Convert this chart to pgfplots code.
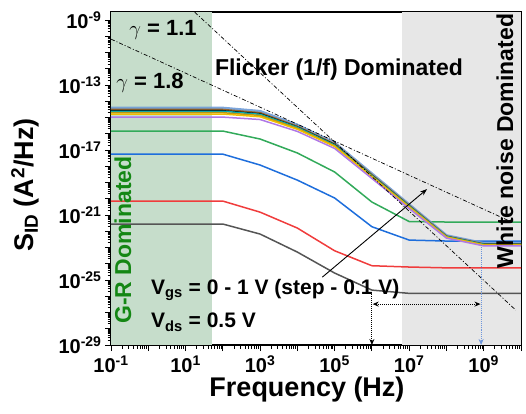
\documentclass[border=0pt]{standalone}
\usepackage{fontspec}
\setmainfont{Liberation Sans}
\usepackage{pgfplots}
\pgfplotsset{compat=1.18}
\usetikzlibrary{arrows.meta}
\definecolor{grfill}{RGB}{198,221,203}
\definecolor{wnfill}{RGB}{231,231,231}
\definecolor{c0}{RGB}{85,85,85}
\definecolor{c1}{RGB}{240,60,60}
\definecolor{c2}{RGB}{30,110,220}
\definecolor{c3}{RGB}{50,170,90}
\definecolor{c4}{RGB}{175,120,230}
\definecolor{c5}{RGB}{240,190,0}
\definecolor{c6}{RGB}{190,150,20}
\definecolor{c7}{RGB}{0,170,180}
\definecolor{c8}{RGB}{0,0,0}
\definecolor{c9}{RGB}{150,100,40}
\definecolor{c10}{RGB}{110,155,215}
\definecolor{grtext}{RGB}{20,135,20}
\definecolor{arrblue}{RGB}{110,150,220}
\newcommand{\tl}[1]{\textbf{10\textsuperscript{#1}}}
\begin{document}
\begin{tikzpicture}
\useasboundingbox (-111bp,-69bp) rectangle (415bp,345bp);
\begin{axis}[
  at={(0,0)}, anchor=south west,
  scale only axis, width=410bp, height=333bp,
  xmode=log, ymode=log,
  xmin=1e-1, xmax=1e10, ymin=1e-29, ymax=3.16e-9,
  axis line style={line width=1.2bp},
  tick align=outside, xtick pos=bottom, ytick pos=left,
  major tick length=6bp, minor tick length=3.5bp,
  every tick/.style={line width=0.9bp, black},
  xtick={1e-1,1,10,100,1e3,1e4,1e5,1e6,1e7,1e8,1e9,1e10},
  xticklabels={\tl{-1},,\tl{1},,\tl{3},,\tl{5},,\tl{7},,\tl{9},},
  ytick={1e-29,1e-28,1e-27,1e-26,1e-25,1e-24,1e-23,1e-22,1e-21,1e-20,1e-19,1e-18,1e-17,1e-16,1e-15,1e-14,1e-13,1e-12,1e-11,1e-10,1e-9},
  yticklabels={\tl{-29},,,,\tl{-25},,,,\tl{-21},,,,\tl{-17},,,,\tl{-13},,,,\tl{-9}},
  tick label style={font=\bfseries\fontsize{20bp}{22bp}\selectfont},
  xticklabel style={yshift=-1bp},
  clip=true,
]
% regions
\addplot[fill=grfill, draw=none, forget plot] coordinates {(0.1,1e-29) (50,1e-29) (50,3.16e-9) (0.1,3.16e-9)} -- cycle;
\addplot[fill=wnfill, draw=none, forget plot] coordinates {(6.5e6,1e-29) (1e10,1e-29) (1e10,3.16e-9) (6.5e6,3.16e-9)} -- cycle;
% Vgs = 0
\addplot[c0, line width=1.5bp] coordinates {(1e-1,2.8e-22) (1,2.8e-22) (10,2.8e-22) (100,2.8e-22) (1e3,6.76e-23) (1e4,5.25e-24) (1e5,2.69e-25) (1e6,2.4e-26) (1e7,1.51e-26) (1e8,1.51e-26) (1e9,1.51e-26) (1e10,1.51e-26)};
% Vgs = 0.1
\addplot[c1, line width=1.5bp] coordinates {(1e-1,7.24e-21) (1,7.24e-21) (10,7.24e-21) (100,7.24e-21) (1e3,1.51e-21) (1e4,1.58e-22) (1e5,6.31e-24) (1e6,7.59e-25) (1e7,6.31e-25) (1e8,5.62e-25) (1e9,5.62e-25) (1e10,5.62e-25)};
% Vgs = 0.2
\addplot[c2, line width=1.5bp] coordinates {(1e-1,5.62e-18) (1,5.62e-18) (10,5.62e-18) (100,5.62e-18) (1e3,1.2e-18) (1e4,1.41e-19) (1e5,1.12e-20) (1e6,1.91e-22) (1e7,2.88e-23) (1e8,2.51e-23) (1e9,2.51e-23) (1e10,2.51e-23)};
% Vgs = 0.3
\addplot[c3, line width=1.5bp] coordinates {(1e-1,1.48e-16) (1,1.48e-16) (10,1.48e-16) (100,1.48e-16) (1e3,4.79e-17) (1e4,6.61e-18) (1e5,4.47e-19) (1e6,6.31e-21) (1e7,3.98e-22) (1e8,3.72e-22) (1e9,3.72e-22) (1e10,3.72e-22)};
% Vgs = 1.0
\addplot[c10, line width=3bp, opacity=0.9] coordinates {(1e-1,3.8e-15) (1,3.8e-15) (10,3.8e-15) (100,3.8e-15) (1e3,2.4e-15) (1e4,3.39e-16) (1e5,2.69e-17) (1e6,3.39e-19) (1e7,4.27e-21) (1e8,5.37e-23) (1e9,1.78e-23) (1e10,1.78e-23)};
% Vgs = 0.9
\addplot[c9, line width=1.5bp] coordinates {(1e-1,3.16e-15) (1,3.16e-15) (10,3.16e-15) (100,3.16e-15) (1e3,2.0e-15) (1e4,2.95e-16) (1e5,2.4e-17) (1e6,3.09e-19) (1e7,3.98e-21) (1e8,5.13e-23) (1e9,1.7e-23) (1e10,1.7e-23)};
% Vgs = 0.8
\addplot[c8, line width=0.9bp] coordinates {(1e-1,2.75e-15) (1,2.75e-15) (10,2.75e-15) (100,2.75e-15) (1e3,1.78e-15) (1e4,2.69e-16) (1e5,2.24e-17) (1e6,2.88e-19) (1e7,3.72e-21) (1e8,4.9e-23) (1e9,1.62e-23) (1e10,1.62e-23)};
% Vgs = 0.7
\addplot[c7, line width=1.5bp] coordinates {(1e-1,2.45e-15) (1,2.45e-15) (10,2.45e-15) (100,2.45e-15) (1e3,1.58e-15) (1e4,2.51e-16) (1e5,2.04e-17) (1e6,2.69e-19) (1e7,3.55e-21) (1e8,4.79e-23) (1e9,1.58e-23) (1e10,1.58e-23)};
% Vgs = 0.6
\addplot[c6, line width=1.5bp] coordinates {(1e-1,2.0e-15) (1,2.0e-15) (10,2.0e-15) (100,2.0e-15) (1e3,1.35e-15) (1e4,2.19e-16) (1e5,1.82e-17) (1e6,2.45e-19) (1e7,3.24e-21) (1e8,4.47e-23) (1e9,1.48e-23) (1e10,1.48e-23)};
% Vgs = 0.5
\addplot[c5, line width=1.5bp] coordinates {(1e-1,1.66e-15) (1,1.66e-15) (10,1.66e-15) (100,1.66e-15) (1e3,1.12e-15) (1e4,1.91e-16) (1e5,1.66e-17) (1e6,2.24e-19) (1e7,3.02e-21) (1e8,4.27e-23) (1e9,1.41e-23) (1e10,1.41e-23)};
% Vgs = 0.4
\addplot[c4, line width=1.5bp] coordinates {(1e-1,1.07e-15) (1,1.07e-15) (10,1.07e-15) (100,1.07e-15) (1e3,7.59e-16) (1e4,1.41e-16) (1e5,1.26e-17) (1e6,1.78e-19) (1e7,2.51e-21) (1e8,3.8e-23) (1e9,1.26e-23) (1e10,1.26e-23)};
% slope guide lines
\addplot[black, line width=0.7bp, dash pattern=on 4bp off 2bp on 1bp off 2bp] coordinates {(0.1,6.76e-11) (5.62e9,3.72e-22)};
\addplot[black, line width=0.7bp, dash pattern=on 4bp off 2bp on 1bp off 2bp] coordinates {(17.6,3.09e-9) (7.24e9,1.41e-27)};
% arrows
\draw[black, line width=0.9bp, -{Stealth[length=7bp,width=5bp]}] (axis cs:4.68e4,1.51e-25) -- (axis cs:3.02e7,3.98e-20);
\draw[black, line width=1bp, densely dotted, -{Stealth[length=6bp,width=5bp]}] (axis cs:1e6,1.8e-26) -- (axis cs:1e6,1e-29);
\draw[black, line width=1bp, densely dotted, {Stealth[length=6bp,width=5bp]}-{Stealth[length=6bp,width=5bp]}] (axis cs:1.05e6,3.3e-27) -- (axis cs:8.2e8,3.3e-27);
\draw[arrblue, line width=0.9bp, densely dotted, -{Stealth[length=6bp,width=5bp]}] (axis cs:8.5e8,1.4e-23) -- (axis cs:8.5e8,1e-29);
\end{axis}
% annotations (bp, origin at lower-left of axis box)
\node[font=\bfseries\fontsize{22bp}{24bp}\selectfont] at (52bp,315bp) {$\gamma$ = 1.1};
\node[font=\bfseries\fontsize{22bp}{24bp}\selectfont] at (39bp,262bp) {$\gamma$ = 1.8};
\node[font=\bfseries\fontsize{23bp}{25bp}\selectfont] at (228bp,275bp) {Flicker (1/f) Dominated};
\node[font=\bfseries\fontsize{23bp}{25bp}\selectfont, rotate=90] at (394bp,204bp) {White noise Dominated};
\node[font=\bfseries\fontsize{23bp}{25bp}\selectfont, rotate=90, text=grtext] at (12bp,105bp) {G-R Dominated};
\node[font=\bfseries\fontsize{21bp}{23bp}\selectfont, anchor=west, inner sep=0pt] at (40bp,55bp) {V\textsubscript{gs} = 0 - 1 V (step - 0.1 V)};
\node[font=\bfseries\fontsize{21bp}{23bp}\selectfont, anchor=west, inner sep=0pt] at (40bp,23bp) {V\textsubscript{ds} = 0.5 V};
% axis labels
\node[font=\bfseries\fontsize{27bp}{29bp}\selectfont] at (196bp,-45bp) {Frequency (Hz)};
\node[font=\bfseries\fontsize{27bp}{29bp}\selectfont, rotate=90] at (-86bp,160bp) {S\textsubscript{ID} (A\textsuperscript{2}/Hz)};
\end{tikzpicture}
\end{document}
